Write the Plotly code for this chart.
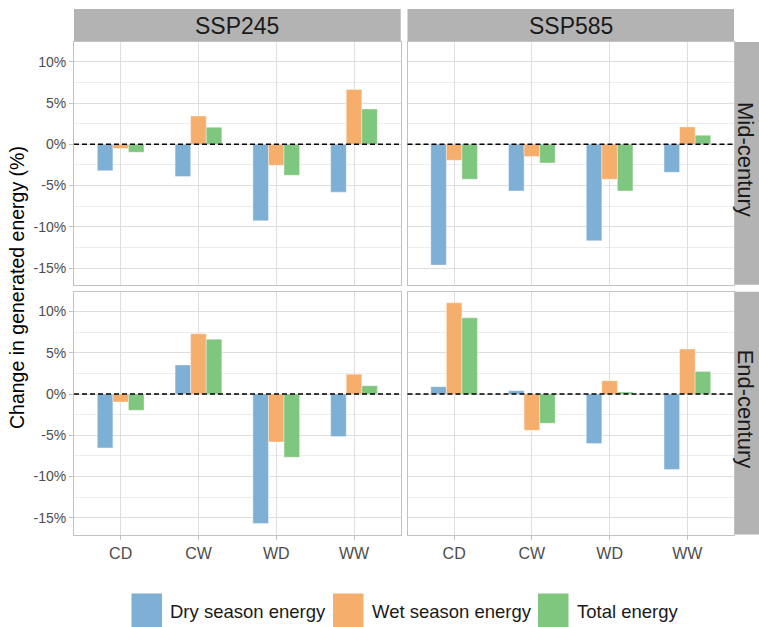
import plotly.graph_objects as go

# Categories, facets and series
categories = ["CD", "CW", "WD", "WW"]
scenarios = ["SSP245", "SSP585"]
periods = ["Mid-century", "End-century"]
series_names = ["Dry season energy", "Wet season energy", "Total energy"]
series_colors = ["#7EB0D5", "#F5AE6B", "#7FC77F"]
y_tick_vals = [-15, -10, -5, 0, 5, 10]
y_tick_text = ["-15%", "-10%", "-5%", "0%", "5%", "10%"]

# Change in generated energy (%), per category CD, CW, WD, WW
mid_ssp245_dry = [-3.19, -3.9, -9.27, -5.8]
mid_ssp245_wet = [-0.52, 3.43, -2.54, 6.65]
mid_ssp245_total = [-0.97, 2.06, -3.75, 4.27]

mid_ssp585_dry = [-14.64, -5.65, -11.69, -3.39]
mid_ssp585_wet = [-1.94, -1.49, -4.23, 2.1]
mid_ssp585_total = [-4.23, -2.26, -5.65, 1.09]

end_ssp245_dry = [-6.53, 3.51, -15.69, -5.16]
end_ssp245_wet = [-0.97, 7.3, -5.81, 2.38]
end_ssp245_total = [-1.98, 6.65, -7.66, 1.01]

end_ssp585_dry = [0.89, 0.4, -6.01, -9.15]
end_ssp585_wet = [11.05, -4.4, 1.61, 5.44]
end_ssp585_total = [9.23, -3.55, 0.24, 2.74]

panels = {
    ("Mid-century", "SSP245"): [mid_ssp245_dry, mid_ssp245_wet, mid_ssp245_total],
    ("Mid-century", "SSP585"): [mid_ssp585_dry, mid_ssp585_wet, mid_ssp585_total],
    ("End-century", "SSP245"): [end_ssp245_dry, end_ssp245_wet, end_ssp245_total],
    ("End-century", "SSP585"): [end_ssp585_dry, end_ssp585_wet, end_ssp585_total],
}

W, H = 759, 627
FONT = "Arial, Liberation Sans, sans-serif"
GRID = "#DEDEDE"
MINOR = "#EDEDED"
BORDER = "#C2C2C2"
STRIP = "#B3B3B3"


def px_x(p):
    return p / W


def px_y(p):
    return 1 - p / H


# panel boxes in pixels
col_px = [(74, 400.7), (407.5, 734)]
row_px = [(42.1, 284.8), (291.8, 534.5)]

# shared y range with 5% padding, like ggplot's default expansion
all_vals = [v for grp in panels.values() for s in grp for v in s]
lo, hi = min(all_vals), max(all_vals)
pad = 0.05 * (hi - lo)
y_range = [lo - pad, hi + pad]

fig = go.Figure()
layout = {}
shapes = []
annotations = []

idx = 0
for r, period in enumerate(periods):
    for c, scen in enumerate(scenarios):
        idx += 1
        sfx = "" if idx == 1 else str(idx)
        xa, ya = "x" + sfx, "y" + sfx
        for name, color, vals in zip(series_names, series_colors, panels[(period, scen)]):
            fig.add_trace(go.Bar(
                x=categories, y=vals, name=name, xaxis=xa, yaxis=ya,
                marker=dict(color=color, line=dict(color="rgba(255,255,255,0.6)", width=0.6)),
                showlegend=False, hoverinfo="x+y+name",
            ))
        bottom = r == len(periods) - 1
        left = c == 0
        layout["xaxis" + sfx] = dict(
            domain=[px_x(col_px[c][0]), px_x(col_px[c][1])],
            anchor=ya, type="category", range=[-0.6, len(categories) - 0.4],
            showgrid=True, gridcolor=GRID, gridwidth=1,
            showline=True, linecolor=BORDER, linewidth=1, mirror=True,
            ticks="outside" if bottom else "", ticklen=4, tickcolor=BORDER,
            showticklabels=bottom,
            tickfont=dict(family=FONT, size=16, color="#4D4D4D"),
            zeroline=False,
        )
        layout["yaxis" + sfx] = dict(
            domain=[px_y(row_px[r][1]), px_y(row_px[r][0])],
            anchor=xa, range=y_range,
            tickvals=y_tick_vals, ticktext=y_tick_text,
            showgrid=True, gridcolor=GRID, gridwidth=1,
            minor=dict(dtick=2.5, tick0=0, showgrid=True, gridcolor=MINOR, gridwidth=0.6, ticks=""),
            showline=True, linecolor=BORDER, linewidth=1, mirror=True,
            ticks="outside" if left else "", ticklen=4, tickcolor=BORDER,
            showticklabels=left,
            tickfont=dict(family=FONT, size=14, color="#4D4D4D"),
            zeroline=False,
        )
        # dashed reference line at zero
        shapes.append(dict(
            type="line", xref=xa + " domain", yref=ya, x0=0, x1=1, y0=0, y1=0,
            line=dict(color="black", width=1.4, dash="5px,3px"), layer="above",
        ))

# column strips
for c, scen in enumerate(scenarios):
    shapes.append(dict(type="rect", xref="paper", yref="paper",
                       x0=px_x(col_px[c][0]), x1=px_x(col_px[c][1]),
                       y0=px_y(41), y1=px_y(9), fillcolor=STRIP, line=dict(width=0), layer="below"))
    annotations.append(dict(text=scen, xref="paper", yref="paper",
                            x=px_x((col_px[c][0] + col_px[c][1]) / 2), y=px_y(25.5),
                            showarrow=False, xanchor="center", yanchor="middle",
                            font=dict(family=FONT, size=23, color="#1A1A1A")))

# row strips
for r, period in enumerate(periods):
    shapes.append(dict(type="rect", xref="paper", yref="paper",
                       x0=px_x(734.7), x1=1.0,
                       y0=px_y(row_px[r][1]), y1=px_y(row_px[r][0]),
                       fillcolor=STRIP, line=dict(width=0), layer="below"))
    annotations.append(dict(text=period, xref="paper", yref="paper",
                            x=px_x(745.5), y=px_y((row_px[r][0] + row_px[r][1]) / 2 - 4),
                            showarrow=False, textangle=90, xanchor="center", yanchor="middle",
                            font=dict(family=FONT, size=22, color="#1A1A1A")))

# y axis title
annotations.append(dict(text="Change in generated energy (%)", xref="paper", yref="paper",
                        x=px_x(17), y=px_y(288), showarrow=False, textangle=-90,
                        xanchor="center", yanchor="middle",
                        font=dict(family=FONT, size=19.5, color="black")))

# legend keys and labels
key_x = [131.5, 333, 538]
label_x = [168, 370, 575]
for name, color, kx, lx in zip(series_names, series_colors, key_x, label_x):
    shapes.append(dict(type="rect", xref="paper", yref="paper",
                       x0=px_x(kx), x1=px_x(kx + 30.5), y0=px_y(630), y1=px_y(593.5),
                       fillcolor=color, line=dict(width=0)))
    annotations.append(dict(text=name, xref="paper", yref="paper",
                            x=px_x(lx), y=px_y(611), showarrow=False,
                            xanchor="left", yanchor="middle",
                            font=dict(family=FONT, size=18.5, color="#1A1A1A")))

fig.update_layout(
    width=W, height=H, margin=dict(l=0, r=0, t=0, b=0),
    paper_bgcolor="white", plot_bgcolor="white",
    barmode="group", bargap=0.4, bargroupgap=0,
    shapes=shapes, annotations=annotations, showlegend=False,
    font=dict(family=FONT),
    **layout,
)

fig.write_html("out.html")
